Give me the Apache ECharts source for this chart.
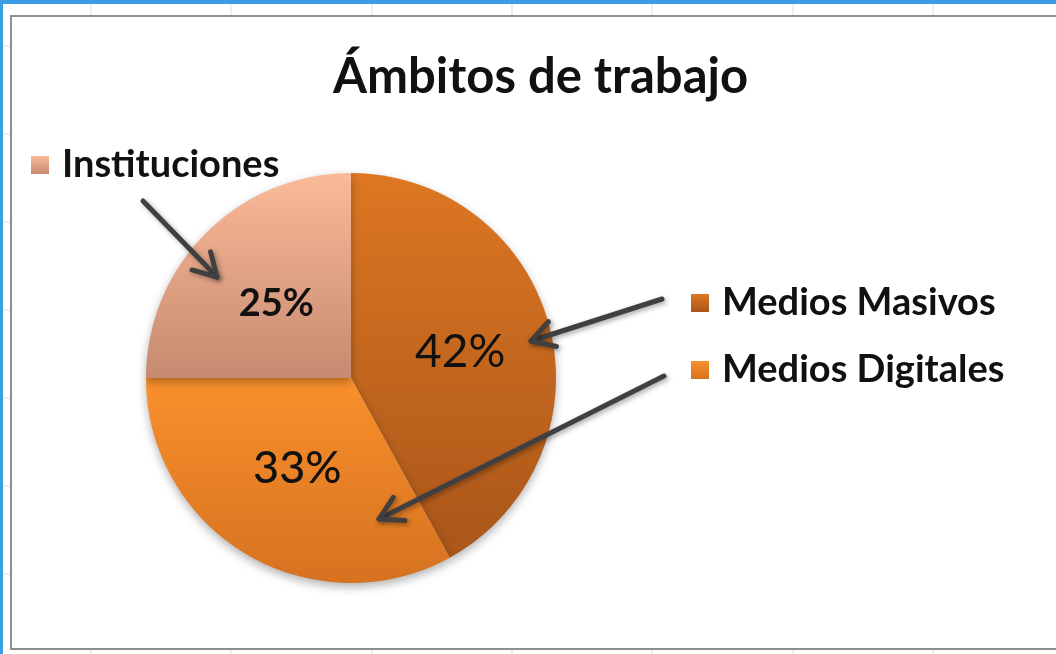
<!DOCTYPE html>
<html>
<head>
<meta charset="utf-8">
<script src="https://cdn.jsdelivr.net/npm/echarts@6/dist/echarts.min.js"></script>
<style>
  html, body { margin: 0; padding: 0; background: #fff; }
  #chart { width: 1056px; height: 654px; }
</style>
</head>
<body>
<div id="chart"></div>
<script>
const titleText = 'Ámbitos de trabajo';
const categories = ['Medios Masivos', 'Medios Digitales', 'Instituciones'];
const values = [42, 33, 25];

// gradient colors per slice (top -> bottom)
const sliceColors = [
  ['#DD7722', '#A9561A'],
  ['#FA902C', '#D67220'],
  ['#FBBA98', '#C68A70']
];
const labelFonts = [
  { fontSize: 46, fontWeight: 'normal', padding: [0, 0, 0, 14] },
  { fontSize: 45, fontWeight: 500, padding: [6, 0, 0, 0] },
  { fontSize: 38, fontWeight: 'bold', padding: [0, 0, 0, 0] }
];

function grad(c) {
  return new echarts.graphic.LinearGradient(0, 0, 0, 1, [
    { offset: 0, color: c[0] },
    { offset: 1, color: c[1] }
  ]);
}

// arrow annotation: shaft + open head
function arrow(x1, y1, x2, y2) {
  const ang = Math.atan2(y2 - y1, x2 - x1);
  const len = 26, spread = Math.PI / 6;
  const a1 = [x2 - len * Math.cos(ang - spread), y2 - len * Math.sin(ang - spread)];
  const a2 = [x2 - len * Math.cos(ang + spread), y2 - len * Math.sin(ang + spread)];
  const style = {
    stroke: '#404040',
    lineWidth: 5,
    lineCap: 'round',
    lineJoin: 'round',
    fill: null,
    shadowBlur: 5,
    shadowColor: 'rgba(0,0,0,0.35)',
    shadowOffsetX: 2,
    shadowOffsetY: 2
  };
  return [
    { type: 'polyline', z: 100, shape: { points: [[x1, y1], [x2, y2]] }, style: style },
    { type: 'polyline', z: 100, shape: { points: [a1, [x2, y2], a2] }, style: style }
  ];
}

// excel sheet decoration
const frame = [
  { type: 'rect', z: -10, shape: { x: 0, y: 0, width: 1056, height: 654 }, style: { fill: '#3A9DE5' } },
  { type: 'rect', z: -9, shape: { x: 3, y: 4, width: 1053, height: 650 }, style: { fill: '#fff' } }
];
[91, 231, 372, 512, 652, 793, 933].forEach(x => {
  frame.push({ type: 'line', z: -8, shape: { x1: x, y1: 4, x2: x, y2: 654 }, style: { stroke: '#dcdcdc', lineWidth: 1 } });
});
[46, 134, 222, 310, 398, 486, 574].forEach(y => {
  frame.push({ type: 'line', z: -8, shape: { x1: 3, y1: y, x2: 12, y2: y }, style: { stroke: '#dcdcdc', lineWidth: 1 } });
});
frame.push({ type: 'rect', z: -7, shape: { x: 11, y: 16, width: 1060, height: 633 }, style: { fill: '#fff', stroke: '#8f8f8f', lineWidth: 2 } });

const chart = echarts.init(document.getElementById('chart'));

function legendFor(name, left, top) {
  return {
    data: [name],
    left: left,
    top: top,
    itemWidth: 18,
    itemHeight: 18,
    icon: 'rect',
    selectedMode: false,
    textStyle: {
      fontFamily: 'Lato',
      fontWeight: 'bold',
      fontSize: 38,
      color: '#111',
      lineHeight: 40,
      padding: [0, 0, 0, 8]
    }
  };
}

const option = {
  animation: false,
  title: {
    text: titleText,
    left: 328,
    top: 48,
    textStyle: { fontFamily: 'Lato', fontWeight: 'bold', fontSize: 49, color: '#111' }
  },
  legend: [
    legendFor(categories[2], 26, 140),
    legendFor(categories[0], 686, 278),
    legendFor(categories[1], 686, 345)
  ],
  graphic: frame
    .concat(arrow(143, 201, 217, 277))
    .concat(arrow(662, 299, 531, 341))
    .concat(arrow(664, 376, 379, 519)),
  series: [
    {
      type: 'pie',
      center: [351, 378],
      radius: 205,
      startAngle: 90,
      clockwise: true,
      silent: true,
      label: {
        show: true,
        position: 'inner',
        formatter: '{d}%',
        color: '#111',
        fontFamily: 'Lato'
      },
      labelLine: { show: false },
      itemStyle: {
        shadowBlur: 10,
        shadowColor: 'rgba(0,0,0,0.3)',
        shadowOffsetY: 4
      },
      data: categories.map((name, i) => ({
        name: name,
        value: values[i],
        itemStyle: { color: grad(sliceColors[i]) },
        label: Object.assign({ fontFamily: 'Lato', color: '#111' }, labelFonts[i])
      }))
    }
  ]
};

chart.setOption(option);
</script>
</body>
</html>
